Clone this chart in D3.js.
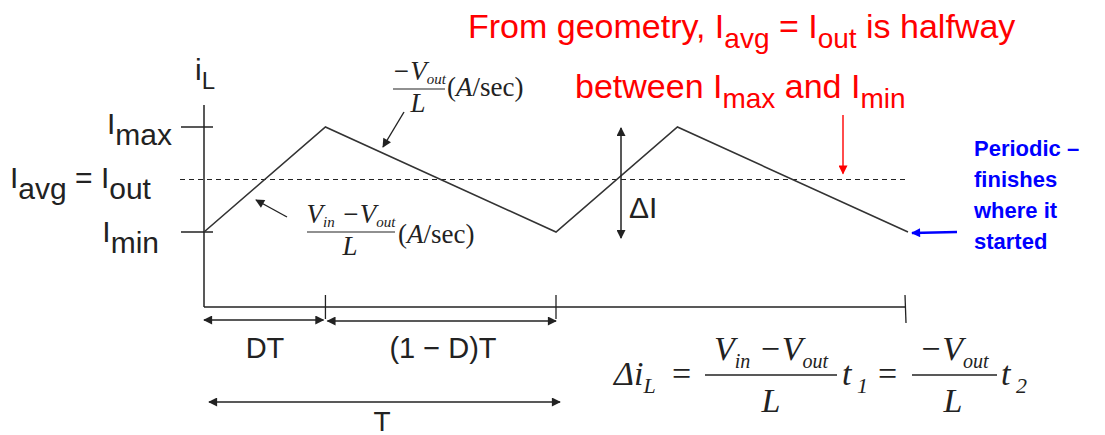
<!DOCTYPE html>
<html lang="en">
<head>
<meta charset="utf-8">
<title>Inductor current ripple</title>
<script src="https://cdnjs.cloudflare.com/ajax/libs/d3/7.8.5/d3.min.js"></script>
<style>
  body { margin: 0; background: #fff; }
  svg { display: block; }
</style>
</head>
<body>
<script>
// waveform: time in units of T, current as 0 = Imin, 1 = Imax
const duty = 0.345;
const tPoints = [0, duty, 1, 1 + duty, 2];
const iPoints = [0, 1, 0, 1, 0];
const periodTicks = [duty, 1, 2];
const levelValues = [1, 0.5, 0];

const width = 1105, height = 435;
const sans = "Arial, 'Liberation Sans', sans-serif";
const serif = "'Times New Roman', 'Liberation Serif', serif";
const ink = "#222";

const svg = d3.select("body").append("svg")
    .attr("width", width)
    .attr("height", height);

svg.append("rect").attr("width", width).attr("height", height).attr("fill", "#fff");

const x = d3.scaleLinear().domain([0, 2]).range([204, 908]);
const y = d3.scaleLinear().domain([0, 1]).range([232, 127]);

// arrow heads
const defs = svg.append("defs");
[["blk", ink], ["red", "#f00"], ["blu", "#00f"]].forEach(([id, c]) => {
    defs.append("marker")
        .attr("id", id)
        .attr("viewBox", "0 0 10 10")
        .attr("refX", 9).attr("refY", 5)
        .attr("markerWidth", 11).attr("markerHeight", 9)
        .attr("markerUnits", "userSpaceOnUse")
        .attr("orient", "auto-start-reverse")
        .append("path")
        .attr("d", "M0,0 L10,5 L0,10 z")
        .attr("fill", c);
});

function line(x1, y1, x2, y2, o = {}) {
    return svg.append("line")
        .attr("x1", x1).attr("y1", y1).attr("x2", x2).attr("y2", y2)
        .attr("stroke", o.color || ink)
        .attr("stroke-width", o.w || 1.5)
        .attr("stroke-dasharray", o.dash || null)
        .attr("marker-end", o.end ? `url(#${o.end})` : null)
        .attr("marker-start", o.start ? `url(#${o.start})` : null);
}

// text with subscripts: parts = [[text, isSub, style]]
function rich(px, py, parts, o) {
    const t = svg.append("text")
        .attr("x", px).attr("y", py)
        .attr("font-family", o.family || sans)
        .attr("font-size", o.size)
        .attr("font-weight", o.weight || null)
        .attr("fill", o.color || ink)
        .attr("text-anchor", o.anchor || "start");
    let shift = 0;
    parts.forEach(([txt, sub, style]) => {
        const target = sub ? o.subDy : 0;
        t.append("tspan")
            .attr("dy", target - shift)
            .attr("font-size", sub ? o.subSize : o.size)
            .attr("font-style", style || o.style || null)
            .text(txt);
        shift = target;
    });
    return t;
}

// axes
line(x(0), 105, x(0), 307);
line(x(0), 307, x(2) - 2, 307);
levelValues.filter(v => v !== 0.5).forEach(v => line(181, y(v), 213, y(v)));
periodTicks.forEach((t, i) => line(x(t) - (i === 2 ? 3 : 0), 295, x(t) - (i === 2 ? 2 : 0), i === 2 ? 323 : 319, { w: 1.3 }));

// average level
line(180, y(0.5), 906, y(0.5), { w: 1.2, dash: "5,4" });

// inductor current
svg.append("path")
    .datum(tPoints.map((t, i) => [t, iPoints[i]]))
    .attr("fill", "none")
    .attr("stroke", "#333")
    .attr("stroke-width", 1.6)
    .attr("d", d3.line().x(d => x(d[0])).y(d => y(d[1])));

// level labels
const lab = { size: 30, subSize: 30, subDy: 11 };
rich(195, 80, [["i"], ["L", true]], { size: 30, subSize: 24, subDy: 9 });
rich(172, y(1) + 7, [["I"], ["max", true]], { ...lab, anchor: "end" });
rich(10, y(0.5) + 8, [["I"], ["avg", true], [" = I"], ["out", true]], lab);
rich(159, y(0) + 10, [["I"], ["min", true]], { ...lab, anchor: "end" });

// time intervals
line(x(0), 320, x(duty) - 2, 320, { start: "blk", end: "blk" });
line(x(duty) + 2, 321, x(1), 321, { start: "blk", end: "blk" });
line(x(0) + 5, 402, x(1) + 4, 402, { start: "blk", end: "blk" });
svg.append("text").attr("x", 265).attr("y", 358).attr("text-anchor", "middle")
    .attr("font-family", sans).attr("font-size", 29).attr("fill", ink).text("DT");
svg.append("text").attr("x", 443).attr("y", 358).attr("text-anchor", "middle")
    .attr("font-family", sans).attr("font-size", 29).attr("fill", ink).text("(1 \u2212 D)T");
svg.append("text").attr("x", 382).attr("y", 431).attr("text-anchor", "middle")
    .attr("font-family", sans).attr("font-size", 28).attr("fill", ink).text("T");

// ripple
line(621, y(1) + 1, 621, y(0) + 6, { start: "blk", end: "blk" });
svg.append("text").attr("x", 629).attr("y", 218)
    .attr("font-family", sans).attr("font-size", 30).attr("fill", ink).text("\u0394I");

// slope annotations
function slope(cx, barY, num, denX) {
    rich(cx, barY - 9, num, { family: serif, size: 27, subSize: 15, subDy: 4, style: "italic", anchor: "middle" });
    svg.append("text").attr("x", denX).attr("y", barY + 23).attr("text-anchor", "middle")
        .attr("font-family", serif).attr("font-style", "italic").attr("font-size", 27).attr("fill", ink).text("L");
}
slope(419, 89, [["\u2212V"], ["out", true]], 418);
line(393, 89, 445, 89, { w: 1.2 });
rich(447, 96, [["("], ["A", false, "italic"], ["/sec)"]], { family: serif, size: 27, subSize: 27, subDy: 0 });
line(404, 112, 383, 147, { w: 1.4, end: "blk" });

slope(351, 232, [["V"], ["in", true], [" \u2212V"], ["out", true]], 350);
line(307, 232, 395, 232, { w: 1.2 });
rich(398, 243, [["("], ["A", false, "italic"], ["/sec)"]], { family: serif, size: 27, subSize: 27, subDy: 0 });
line(287, 217, 256, 200, { w: 1.4, end: "blk" });

// ripple equation
const eq = { family: serif, size: 34, subSize: 22, subDy: 8, style: "italic" };
rich(614, 385, [["\u0394i"], ["L", true]], eq);
svg.append("text").attr("x", 672).attr("y", 385).attr("font-family", serif).attr("font-size", 34).attr("fill", ink).text("=");
rich(771, 360, [["V"], ["in", true], [" \u2212V"], ["out", true]], { ...eq, subSize: 20, anchor: "middle" });
line(705, 375, 837, 375, { w: 1.4 });
rich(771, 412, [["L"]], { ...eq, anchor: "middle" });
rich(842, 385, [["t"], [" 1", true]], eq);
svg.append("text").attr("x", 878).attr("y", 385).attr("font-family", serif).attr("font-size", 34).attr("fill", ink).text("=");
rich(954, 360, [["\u2212V"], ["out", true]], { ...eq, subSize: 20, anchor: "middle" });
line(912, 375, 997, 375, { w: 1.4 });
rich(953, 412, [["L"]], { ...eq, anchor: "middle" });
rich(1001, 385, [["t"], [" 2", true]], eq);

// red note
const red = { size: 34, subSize: 28, subDy: 10, color: "#f00" };
rich(468, 38, [["From geometry, I"], ["avg", true], [" = I"], ["out", true], [" is halfway"]], red);
rich(575, 98, [["between I"], ["max", true], [" and I"], ["min", true]], red);
line(843, 115, 843, y(0.5) - 6, { color: "#f00", w: 1.4, end: "red" });

// blue note
["Periodic \u2013", "finishes", "where it", "started"].forEach((s, i) => {
    svg.append("text").attr("x", 974).attr("y", 156 + i * 31)
        .attr("font-family", sans).attr("font-weight", "bold").attr("font-size", 22)
        .attr("fill", "#00f").text(s);
});
line(957, 232, x(2) + 4, 233, { color: "#00f", w: 2.5, end: "blu" });
</script>
</body>
</html>
